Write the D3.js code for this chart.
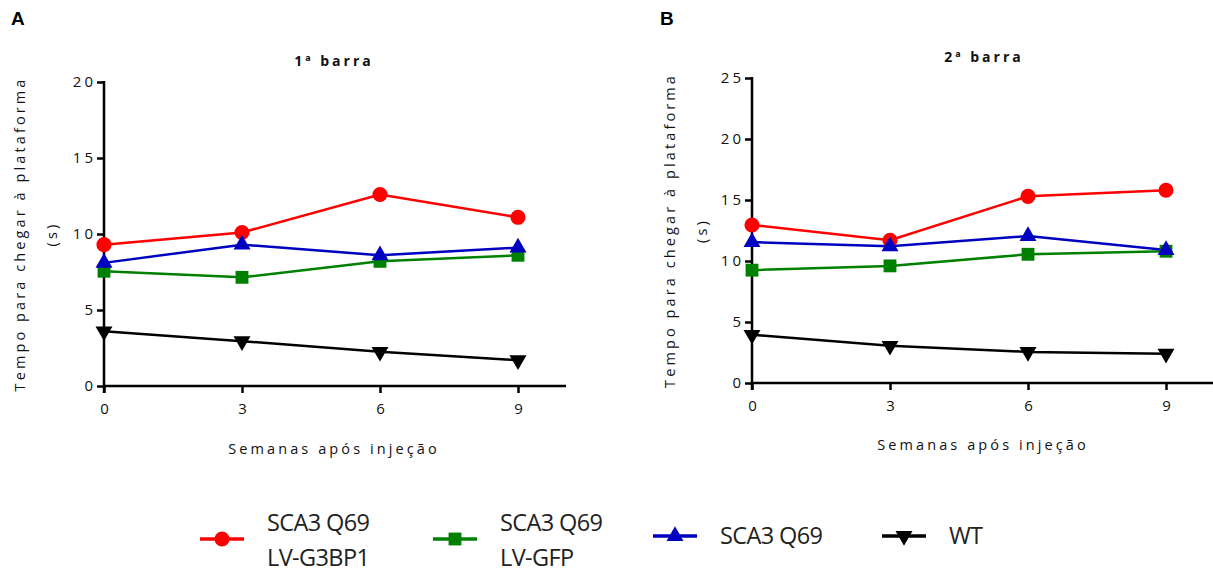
<!DOCTYPE html>
<html>
<head>
<meta charset="utf-8">
<script src="https://cdn.jsdelivr.net/npm/d3@7"></script>
<style>
  html, body { margin: 0; padding: 0; background: #fff; }
  svg { display: block; }
  .tick text { font-family: "Open Sans", sans-serif; font-size: 15px; letter-spacing: 3px; fill: #111; }
  .lbl { font-family: "Open Sans", sans-serif; font-size: 14.5px; letter-spacing: 3.1px; fill: #111; }
  .ttl { font-family: "Open Sans", sans-serif; font-size: 14px; font-weight: bold; letter-spacing: 3px; fill: #111; }
  .panel { font-family: "Liberation Sans", Arial, sans-serif; font-size: 19px; font-weight: bold; fill: #000; }
  .leg { font-family: "Open Sans", sans-serif; font-size: 23.5px; letter-spacing: -0.6px; fill: #222; }
</style>
</head>
<body>
<svg id="chart" width="1213" height="572"></svg>
<script>
// Weeks after injection
const weeks = [0, 3, 6, 9];
const xTicks = [0, 3, 6, 9];

// Group names and colours
const groups = ["SCA3 Q69 LV-G3BP1", "SCA3 Q69 LV-GFP", "SCA3 Q69", "WT"];
const colors = ["#ff0000", "#008000", "#0000c0", "#000000"];
const shapes = ["circle", "square", "triangle", "triangleDown"];

// Panel A: 1st bar, time to reach platform (s)
const barra1_G3BP1 = [9.3, 10.1, 12.6, 11.1];
const barra1_GFP   = [7.55, 7.15, 8.2, 8.6];
const barra1_SCA3  = [8.1, 9.3, 8.6, 9.1];
const barra1_WT    = [3.6, 2.95, 2.25, 1.7];

// Panel B: 2nd bar, time to reach platform (s)
const barra2_G3BP1 = [12.95, 11.7, 15.3, 15.8];
const barra2_GFP   = [9.25, 9.6, 10.55, 10.8];
const barra2_SCA3  = [11.55, 11.2, 12.05, 10.9];
const barra2_WT    = [3.95, 3.05, 2.55, 2.4];

const yTicksA = [0, 5, 10, 15, 20];
const yTicksB = [0, 5, 10, 15, 20, 25];

const svg = d3.select("#chart");

const symbolFor = {
  circle: d3.symbol().type(d3.symbolCircle).size(180),
  square: d3.symbol().type(d3.symbolSquare).size(165),
  triangle: d3.symbol().type(d3.symbolTriangle).size(125),
  triangleDown: d3.symbol().type(d3.symbolTriangle).size(125)
};

function drawMarker(g, shape, color, x, y) {
  g.append("path")
    .attr("d", symbolFor[shape]())
    .attr("transform", `translate(${x},${y})` + (shape === "triangleDown" ? " rotate(180)" : ""))
    .attr("fill", color);
}

function panel(opt) {
  const g = svg.append("g");
  const x = d3.scaleLinear().domain([0, 9]).range([opt.x0, opt.x9]);
  const y = d3.scaleLinear().domain([0, opt.ymax]).range([opt.yb, opt.yt]);

  // axes
  const ax = g.append("g").attr("transform", `translate(0,${opt.yb})`)
    .call(d3.axisBottom(x).tickValues(opt.xTicks).tickSize(7).tickPadding(10).tickFormat(d3.format("d")));
  ax.select(".domain").remove();
  ax.append("line").attr("x1", opt.x0 - 1).attr("x2", opt.xEnd).attr("y1", 0).attr("y2", 0)
    .attr("stroke", "#000").attr("stroke-width", 2.5);
  ax.selectAll(".tick line").attr("stroke", "#000").attr("stroke-width", 2.5);
  ax.selectAll(".tick text").attr("dx", "1.5px");

  const ay = g.append("g").attr("transform", `translate(${opt.x0},0)`)
    .call(d3.axisLeft(y).tickValues(opt.yTicks).tickSize(7).tickPadding(1).tickFormat(d3.format("d")));
  ay.select(".domain").remove();
  ay.append("line").attr("x1", 0).attr("x2", 0).attr("y1", opt.yt - 1).attr("y2", opt.yb + 7)
    .attr("stroke", "#000").attr("stroke-width", 2.5);
  ay.selectAll(".tick line").attr("stroke", "#000").attr("stroke-width", 2.5);

  // series
  const line = d3.line().x((d, i) => x(weeks[i])).y(d => y(d));
  opt.series.forEach((vals, k) => {
    g.append("path").datum(vals).attr("d", line)
      .attr("fill", "none").attr("stroke", colors[k]).attr("stroke-width", 2.5);
  });
  opt.series.forEach((vals, k) => {
    vals.forEach((v, i) => drawMarker(g, shapes[k], colors[k], x(weeks[i]), y(v)));
  });

  // labels
  g.append("text").attr("class", "panel").attr("x", opt.letterX).attr("y", 25).text(opt.letter);
  g.append("text").attr("class", "ttl").attr("x", opt.titleX).attr("y", opt.titleY)
    .attr("text-anchor", "middle").text(opt.title);
  g.append("text").attr("class", "lbl").attr("x", opt.xlabX).attr("y", opt.xlabY)
    .attr("text-anchor", "middle").text("Semanas após injeção");
  const cy = (opt.yt + opt.yb) / 2;
  g.append("text").attr("class", "lbl").attr("text-anchor", "middle")
    .attr("transform", `translate(${opt.ylabX},${cy}) rotate(-90)`).text("Tempo para chegar à plataforma");
  g.append("text").attr("class", "lbl").attr("text-anchor", "middle")
    .attr("transform", `translate(${opt.ylabX + 32},${cy}) rotate(-90)`).text("(s)");
}

panel({
  letter: "A", letterX: 11, title: "1ª barra", titleX: 334, titleY: 66,
  x0: 104, x9: 518, xEnd: 566, yt: 82, yb: 386, ymax: 20,
  yTicks: yTicksA, xTicks: xTicks, xlabX: 334, xlabY: 454, ylabX: 25,
  series: [barra1_G3BP1, barra1_GFP, barra1_SCA3, barra1_WT]
});

panel({
  letter: "B", letterX: 660, title: "2ª barra", titleX: 984, titleY: 62,
  x0: 752, x9: 1166, xEnd: 1213, yt: 78, yb: 383, ymax: 25,
  yTicks: yTicksB, xTicks: xTicks, xlabX: 983, xlabY: 450, ylabX: 675,
  series: [barra2_G3BP1, barra2_GFP, barra2_SCA3, barra2_WT]
});

// legend
const legendItems = [
  { k: 0, lx: 200, lines: ["SCA3 Q69", "LV-G3BP1"] },
  { k: 1, lx: 433, lines: ["SCA3 Q69", "LV-GFP"] },
  { k: 2, lx: 653, lines: ["SCA3 Q69"] },
  { k: 3, lx: 882, lines: ["WT"] }
];
const lg = svg.append("g");
legendItems.forEach(it => {
  const cy = it.lines.length === 2 ? 539 : 536;
  lg.append("line").attr("x1", it.lx).attr("x2", it.lx + 44).attr("y1", cy).attr("y2", cy)
    .attr("stroke", colors[it.k]).attr("stroke-width", 3.5);
  drawMarker(lg, shapes[it.k], colors[it.k], it.lx + 22, cy);
  const tx = it.lx + 67;
  if (it.lines.length === 2) {
    lg.append("text").attr("class", "leg").attr("x", tx).attr("y", 531).text(it.lines[0]);
    lg.append("text").attr("class", "leg").attr("x", tx).attr("y", 566).text(it.lines[1]);
  } else {
    lg.append("text").attr("class", "leg").attr("x", tx).attr("y", 544).text(it.lines[0]);
  }
});
</script>
</body>
</html>
